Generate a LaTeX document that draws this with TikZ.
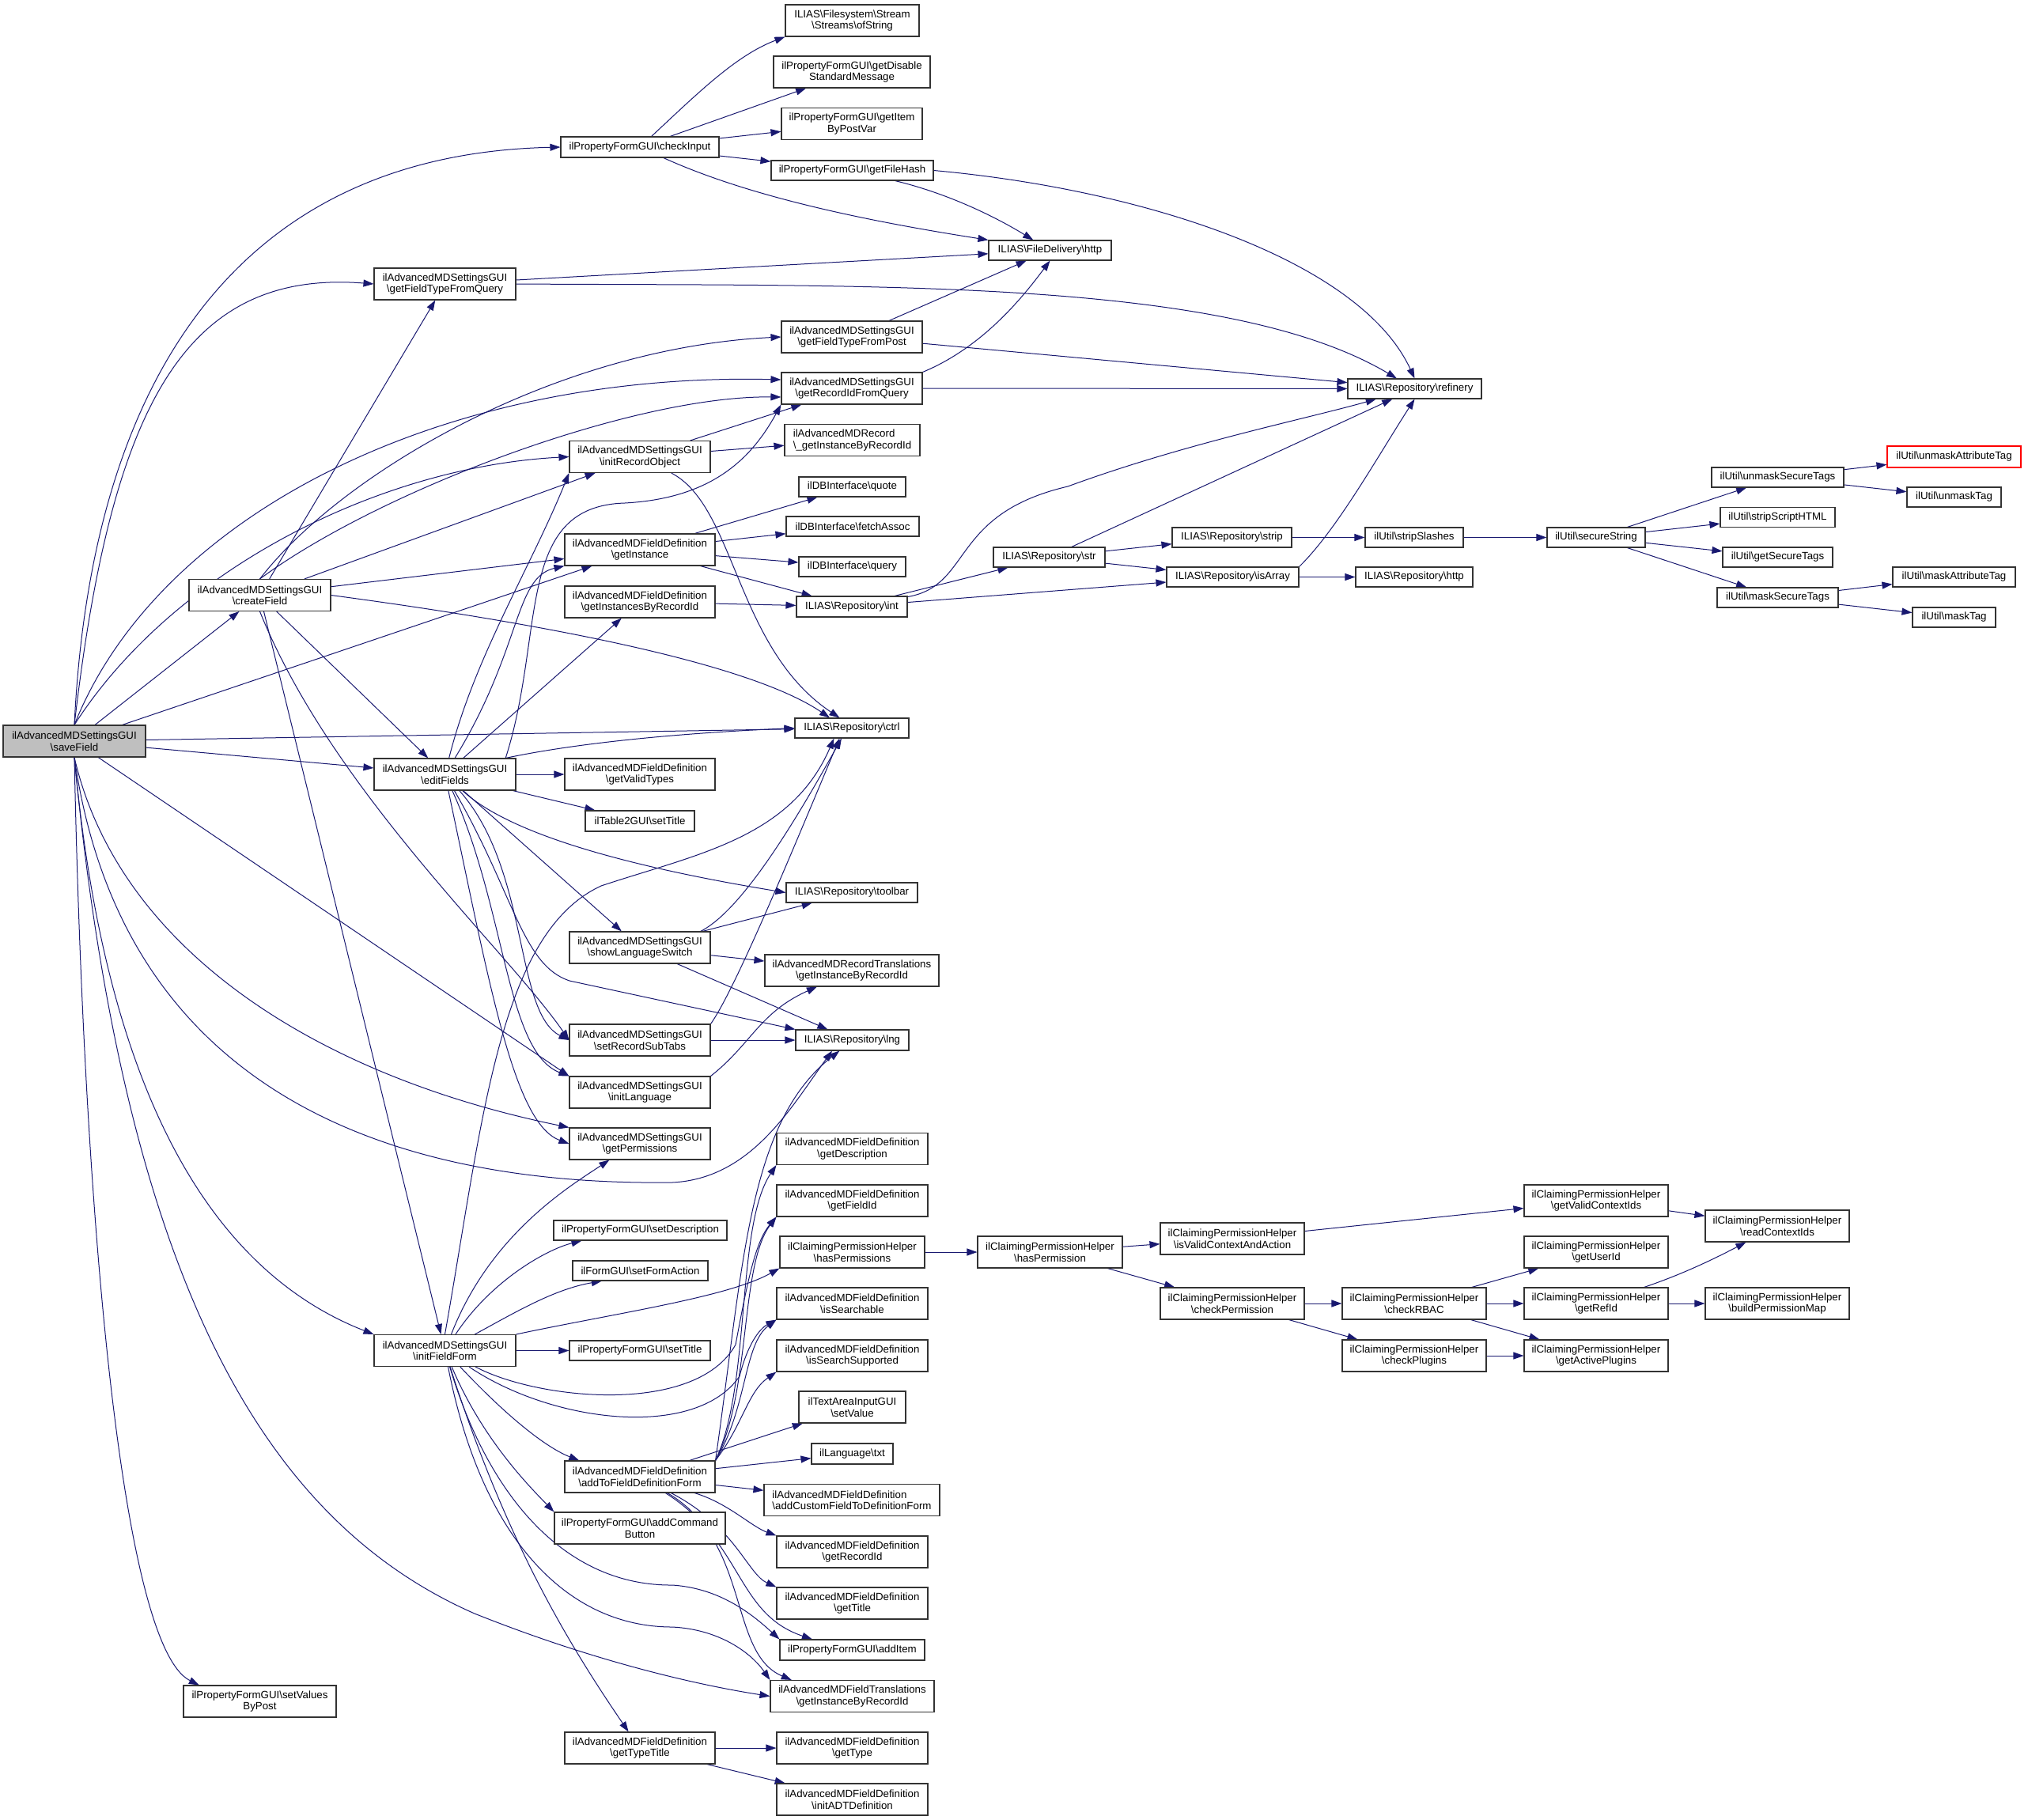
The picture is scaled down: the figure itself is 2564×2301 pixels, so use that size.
\documentclass[tikz,border=0pt]{standalone}
\usepackage{fontspec}
\setmainfont{Liberation Sans}
\usepackage{tikz}
\usetikzlibrary{arrows.meta}
\usetikzlibrary{backgrounds}

\definecolor{edgeblue}{HTML}{191970}
\definecolor{rootgray}{HTML}{BFBFBF}
\newcommand{\bs}{\textbackslash}
\newcommand{\fnsize}{\fontsize{13.3}{14.5}\selectfont}

\tikzset{
fn/.style={draw=black!80, line width=1.1pt, fill=white, inner sep=0pt, align=center, font=\fnsize},
fnone/.style={fn, minimum height=25pt},
fntwo/.style={fn, minimum height=40pt},
call/.style={draw=edgeblue, line width=1pt, -{Triangle[length=13pt,width=9pt]}, color=edgeblue}
}

\begin{document}
\begin{tikzpicture}[x=1pt,y=-1pt]
\useasboundingbox (0,0) rectangle (2564,2301);

% callers
\node[fntwo, fill=rootgray, minimum width=180pt] (saveField) at (94,937) {ilAdvancedMDSettingsGUI\\\bs saveField};
\node[fntwo, minimum width=179pt] (createField) at (328.5,752.5) {ilAdvancedMDSettingsGUI\\\bs createField};
\node[fntwo, minimum width=193pt] (setValuesByPost) at (328.5,2151) {ilPropertyFormGUI\bs setValues\\ByPost};
\node[fntwo, minimum width=179pt] (gftq) at (562.5,359) {ilAdvancedMDSettingsGUI\\\bs getFieldTypeFromQuery};
\node[fntwo, minimum width=179pt] (editFields) at (562.5,979) {ilAdvancedMDSettingsGUI\\\bs editFields};
\node[fntwo, minimum width=179pt] (initFieldForm) at (562.5,1707.5) {ilAdvancedMDSettingsGUI\\\bs initFieldForm};

% column D
\node[fnone, minimum width=200pt, minimum height=26pt] (checkInput) at (809,186) {ilPropertyFormGUI\bs checkInput};
\node[fntwo, minimum width=178pt] (iro) at (809,577.5) {ilAdvancedMDSettingsGUI\\\bs initRecordObject};
\node[fntwo, minimum width=190pt] (getInstance) at (809,695) {ilAdvancedMDFieldDefinition\\\bs getInstance};
\node[fntwo, minimum width=190pt] (getInstancesByRecordId) at (809,761) {ilAdvancedMDFieldDefinition\\\bs getInstancesByRecordId};
\node[fntwo, minimum width=190pt] (getValidTypes) at (809,979) {ilAdvancedMDFieldDefinition\\\bs getValidTypes};
\node[fnone, minimum width=138pt, minimum height=26pt] (t2SetTitle) at (809,1038) {ilTable2GUI\bs setTitle};
\node[fntwo, minimum width=178pt] (showLanguageSwitch) at (809,1198) {ilAdvancedMDSettingsGUI\\\bs showLanguageSwitch};
\node[fntwo, minimum width=178pt] (setRecordSubTabs) at (809,1315) {ilAdvancedMDSettingsGUI\\\bs setRecordSubTabs};
\node[fntwo, minimum width=178pt] (initLanguage) at (809,1381) {ilAdvancedMDSettingsGUI\\\bs initLanguage};
\node[fntwo, minimum width=178pt] (getPermissions) at (809,1446) {ilAdvancedMDSettingsGUI\\\bs getPermissions};
\node[fnone, minimum width=219pt] (propSetDescription) at (809.5,1555.5) {ilPropertyFormGUI\bs setDescription};
\node[fnone, minimum width=171pt] (setFormAction) at (809.5,1606.5) {ilFormGUI\bs setFormAction};
\node[fnone, minimum width=178pt] (propSetTitle) at (809,1707.5) {ilPropertyFormGUI\bs setTitle};
\node[fntwo, minimum width=190pt] (addToFDForm) at (809,1867) {ilAdvancedMDFieldDefinition\\\bs addToFieldDefinitionForm};
\node[fntwo, minimum width=216pt] (addCommandButton) at (809,1932) {ilPropertyFormGUI\bs addCommand\\Button};
\node[fntwo, minimum width=190pt] (getTypeTitle) at (809,2210) {ilAdvancedMDFieldDefinition\\\bs getTypeTitle};

% column E
\node[fntwo, minimum width=169pt] (ofString) at (1077.5,26) {ILIAS\bs Filesystem\bs Stream\\\bs Streams\bs ofString};
\node[fntwo, minimum width=198pt] (getDisableStd) at (1077,91) {ilPropertyFormGUI\bs getDisable\\StandardMessage};
\node[fntwo, minimum width=178pt] (getItemByPostVar) at (1077,156.5) {ilPropertyFormGUI\bs getItem\\ByPostVar};
\node[fnone, minimum width=205pt] (getFileHash) at (1077.5,215.5) {ilPropertyFormGUI\bs getFileHash};
\node[fntwo, minimum width=178pt] (gftp) at (1077,426) {ilAdvancedMDSettingsGUI\\\bs getFieldTypeFromPost};
\node[fntwo, minimum width=178pt] (grfq) at (1077,491) {ilAdvancedMDSettingsGUI\\\bs getRecordIdFromQuery};
\node[fntwo, minimum width=171pt, align=left] (recGetInst) at (1077.5,556.5) {ilAdvancedMDRecord\\\bs\_getInstanceByRecordId};
\node[fnone, minimum width=135pt] (quote) at (1077.5,615.5) {ilDBInterface\bs quote};
\node[fnone, minimum width=168pt] (fetchAssoc) at (1078,665.5) {ilDBInterface\bs fetchAssoc};
\node[fnone, minimum width=135pt] (query) at (1077.5,716.5) {ilDBInterface\bs query};
\node[fnone, minimum width=140pt, minimum height=26pt] (repInt) at (1077,767) {ILIAS\bs Repository\bs int};
\node[fnone, minimum width=144pt] (ctrl) at (1077,920.5) {ILIAS\bs Repository\bs ctrl};
\node[fnone, minimum width=166pt] (toolbar) at (1077,1128.5) {ILIAS\bs Repository\bs toolbar};
\node[fntwo, minimum width=220pt] (recTransGetInst) at (1077,1227) {ilAdvancedMDRecordTranslations\\\bs getInstanceByRecordId};
\node[fnone, minimum width=143pt, minimum height=26pt] (lng) at (1077.5,1315) {ILIAS\bs Repository\bs lng};
\node[fntwo, minimum width=191pt] (getDescription) at (1077.5,1452.5) {ilAdvancedMDFieldDefinition\\\bs getDescription};
\node[fntwo, minimum width=191pt] (getFieldId) at (1077.5,1518) {ilAdvancedMDFieldDefinition\\\bs getFieldId};
\node[fntwo, minimum width=183pt] (hasPermissions) at (1077.5,1583) {ilClaimingPermissionHelper\\\bs hasPermissions};
\node[fntwo, minimum width=191pt] (isSearchable) at (1077.5,1648) {ilAdvancedMDFieldDefinition\\\bs isSearchable};
\node[fntwo, minimum width=191pt] (isSearchSupported) at (1077.5,1714) {ilAdvancedMDFieldDefinition\\\bs isSearchSupported};
\node[fntwo, minimum width=135pt] (setValue) at (1077.5,1779) {ilTextAreaInputGUI\\\bs setValue};
\node[fnone, minimum width=103pt, minimum height=26pt] (txt) at (1077.5,1838) {ilLanguage\bs txt};
\node[fntwo, minimum width=222pt, align=left] (addCustomField) at (1077,1896.5) {ilAdvancedMDFieldDefinition\\\bs addCustomFieldToDefinitionForm};
\node[fntwo, minimum width=191pt] (getRecordId) at (1077.5,1962) {ilAdvancedMDFieldDefinition\\\bs getRecordId};
\node[fntwo, minimum width=191pt] (getTitle) at (1077.5,2027) {ilAdvancedMDFieldDefinition\\\bs getTitle};
\node[fnone, minimum width=183pt, minimum height=26pt] (addItem) at (1077.5,2086) {ilPropertyFormGUI\bs addItem};
\node[fntwo, minimum width=207pt] (fieldTrans) at (1077.5,2144.5) {ilAdvancedMDFieldTranslations\\\bs getInstanceByRecordId};
\node[fntwo, minimum width=191pt] (getType) at (1077.5,2210) {ilAdvancedMDFieldDefinition\\\bs getType};
\node[fntwo, minimum width=191pt] (initADT) at (1077.5,2275) {ilAdvancedMDFieldDefinition\\\bs initADTDefinition};

% columns F to K
\node[fnone, minimum width=155pt] (fdHttp) at (1327.5,316.5) {ILIAS\bs FileDelivery\bs http};
\node[fnone, minimum width=141pt] (repStr) at (1326.5,704.5) {ILIAS\bs Repository\bs str};
\node[fntwo, minimum width=183pt] (hasPermission) at (1327.5,1583) {ilClaimingPermissionHelper\\\bs hasPermission};
\node[fnone, minimum width=151pt] (repStrip) at (1557.5,679.5) {ILIAS\bs Repository\bs strip};
\node[fnone, minimum width=167pt] (isArray) at (1558.5,729.5) {ILIAS\bs Repository\bs isArray};
\node[fntwo, minimum width=182pt] (isValidCtx) at (1558,1566) {ilClaimingPermissionHelper\\\bs isValidContextAndAction};
\node[fntwo, minimum width=182pt] (checkPermission) at (1558,1648) {ilClaimingPermissionHelper\\\bs checkPermission};
\node[fnone, minimum width=169pt] (refinery) at (1788.5,491.5) {ILIAS\bs Repository\bs refinery};
\node[fnone, minimum width=124pt] (stripSlashes) at (1788,679.5) {ilUtil\bs stripSlashes};
\node[fnone, minimum width=148pt] (repHttp) at (1788,729.5) {ILIAS\bs Repository\bs http};
\node[fntwo, minimum width=182pt] (checkRBAC) at (1788,1648) {ilClaimingPermissionHelper\\\bs checkRBAC};
\node[fntwo, minimum width=182pt] (checkPlugins) at (1788,1714) {ilClaimingPermissionHelper\\\bs checkPlugins};
\node[fnone, minimum width=124pt] (secureString) at (2018,679.5) {ilUtil\bs secureString};
\node[fntwo, minimum width=182pt] (getValidContextIds) at (2018,1518) {ilClaimingPermissionHelper\\\bs getValidContextIds};
\node[fntwo, minimum width=182pt] (getUserId) at (2018,1583) {ilClaimingPermissionHelper\\\bs getUserId};
\node[fntwo, minimum width=182pt] (getRefId) at (2018,1648) {ilClaimingPermissionHelper\\\bs getRefId};
\node[fntwo, minimum width=182pt] (getActivePlugins) at (2018,1714) {ilClaimingPermissionHelper\\\bs getActivePlugins};
\node[fnone, minimum width=167pt] (unmaskSecureTags) at (2247.5,603.5) {ilUtil\bs unmaskSecureTags};
\node[fnone, minimum width=145pt] (stripScriptHTML) at (2247.5,654) {ilUtil\bs stripScriptHTML};
\node[fnone, minimum width=139pt] (getSecureTags) at (2247.5,704.5) {ilUtil\bs getSecureTags};
\node[fnone, minimum width=153pt] (maskSecureTags) at (2247.5,755.5) {ilUtil\bs maskSecureTags};
\node[fntwo, minimum width=182pt] (readContextIds) at (2247,1550) {ilClaimingPermissionHelper\\\bs readContextIds};
\node[fntwo, minimum width=182pt] (buildPermissionMap) at (2247,1648) {ilClaimingPermissionHelper\\\bs buildPermissionMap};
\node[fnone, draw=red, minimum width=169pt, minimum height=27pt] (unmaskAttributeTag) at (2470.5,577.5) {ilUtil\bs unmaskAttributeTag};
\node[fnone, minimum width=119pt] (unmaskTag) at (2470.5,628.5) {ilUtil\bs unmaskTag};
\node[fnone, minimum width=155pt] (maskAttributeTag) at (2470.5,729.5) {ilUtil\bs maskAttributeTag};
\node[fnone, minimum width=105pt] (maskTag) at (2470.5,780.5) {ilUtil\bs maskTag};

\begin{scope}[on background layer]
% saveField
\draw[call] (saveField.north) .. controls (115,480) and (300,195) .. (checkInput.west);
\draw[call] (saveField.north) .. controls (140,520) and (230,340) .. (gftq.west);
\draw[call] (saveField.north) .. controls (200,650) and (560,470) .. (grfq.173);
\draw[call] (saveField.north) .. controls (220,720) and (480,590) .. (iro.west);
\draw[call] (saveField) -- (getInstance);
\draw[call] (saveField) -- (createField);
\draw[call] (saveField) -- (ctrl);
\draw[call] (saveField) -- (editFields);
\draw[call] (saveField) -- (initLanguage.north west);
\draw[call] (saveField.south) .. controls (150,1200) and (400,1360) .. (getPermissions.north west);
\draw[call] (saveField.south) .. controls (150,1350) and (450,1500) .. (850,1495) .. controls (950,1490) and (1000,1400) .. (lng.208);
\draw[call] (saveField.south) .. controls (130,1350) and (250,1600) .. (initFieldForm.north west);
\draw[call] (saveField.south) .. controls (160,1650) and (350,1930) .. (600,2040) .. controls (750,2100) and (880,2130) .. (fieldTrans.west);
\draw[call] (saveField.south) .. controls (105,1500) and (150,2080) .. (setValuesByPost.165);
% createField
\draw[call] (createField) -- (gftq);
\draw[call] (createField.north) .. controls (430,600) and (700,440) .. (gftp.west);
\draw[call] (createField.north) .. controls (480,620) and (800,500) .. (grfq.187);
\draw[call] (createField) -- (iro);
\draw[call] (createField) -- (getInstance);
\draw[call] (createField.east) .. controls (700,790) and (950,840) .. (ctrl.155);
\draw[call] (createField) -- (editFields);
\draw[call] (createField) -- (initFieldForm);
\draw[call] (createField.south) .. controls (420,1000) and (640,1200) .. (setRecordSubTabs.west);
% editFields
\draw[call] (editFields.15) .. controls (690,800) and (650,640) .. (790,636) .. controls (900,630) and (950,580) .. (grfq.south west);
\draw[call] (editFields) .. controls (600,830) and (670,720) .. (iro.south west);
\draw[call] (editFields) .. controls (660,820) and (650,730) .. (getInstance.south west);
\draw[call] (editFields) -- (getInstancesByRecordId);
\draw[call] (editFields.15) .. controls (750,935) and (900,925) .. (ctrl.west);
\draw[call] (editFields) -- (getValidTypes);
\draw[call] (editFields) -- (t2SetTitle);
\draw[call] (editFields) .. controls (650,1060) and (820,1100) .. (toolbar.west);
\draw[call] (editFields) -- (showLanguageSwitch);
\draw[call] (editFields) .. controls (670,1100) and (650,1280) .. (setRecordSubTabs.west);
\draw[call] (editFields) .. controls (640,1150) and (640,1330) .. (initLanguage.north west);
\draw[call] (editFields) .. controls (620,1250) and (650,1420) .. (getPermissions.west);
\draw[call] (editFields) .. controls (650,1130) and (660,1220) .. (720,1240) -- (lng.north west);
% showLanguageSwitch, setRecordSubTabs, initLanguage
\draw[call] (showLanguageSwitch.15) .. controls (940,1150) and (1010,1030) .. (ctrl.225);
\draw[call] (showLanguageSwitch) -- (toolbar);
\draw[call] (showLanguageSwitch) -- (recTransGetInst);
\draw[call] (showLanguageSwitch) -- (lng);
\draw[call] (setRecordSubTabs.north east) .. controls (930,1250) and (1000,1080) .. (ctrl.220);
\draw[call] (setRecordSubTabs) -- (lng);
\draw[call] (initLanguage.north east) .. controls (950,1320) and (960,1280) .. (recTransGetInst.205);
% initFieldForm
\draw[call] (initFieldForm.north) .. controls (610,1420) and (630,1180) .. (760,1120) .. controls (880,1080) and (1000,1060) .. (ctrl.210);
\draw[call] (initFieldForm) .. controls (620,1560) and (720,1500) .. (getPermissions.208);
\draw[call] (initFieldForm) .. controls (620,1620) and (690,1580) .. (propSetDescription.190);
\draw[call] (initFieldForm) .. controls (650,1660) and (700,1630) .. (setFormAction.195);
\draw[call] (initFieldForm) -- (propSetTitle);
\draw[call] (initFieldForm.north east) .. controls (780,1660) and (920,1640) .. (hasPermissions.south west);
\draw[call] (initFieldForm) .. controls (680,1770) and (880,1790) .. (930,1700) .. controls (945,1620) and (955,1570) .. (getFieldId.south west);
\draw[call] (initFieldForm) .. controls (700,1800) and (880,1820) .. (935,1740) .. controls (945,1700) and (960,1680) .. (isSearchable.south west);
\draw[call] (initFieldForm) .. controls (640,1790) and (690,1830) .. (addToFDForm.165);
\draw[call] (initFieldForm) .. controls (610,1820) and (670,1880) .. (addCommandButton.north west);
\draw[call] (initFieldForm) .. controls (620,1900) and (720,2005) .. (850,2004) .. controls (910,2008) and (950,2040) .. (addItem.north west);
\draw[call] (initFieldForm) .. controls (610,1950) and (720,2057) .. (850,2057) .. controls (910,2060) and (950,2090) .. (fieldTrans.north west);
\draw[call] (initFieldForm) .. controls (640,1950) and (720,2080) .. (getTypeTitle.125);
% addToFieldDefinitionForm
\draw[call] (addToFDForm.north east) .. controls (950,1750) and (930,1550) .. (getDescription.south west);
\draw[call] (addToFDForm.north east) .. controls (950,1760) and (935,1600) .. (getFieldId.south west);
\draw[call] (addToFDForm.north east) .. controls (945,1780) and (940,1700) .. (isSearchable.south west);
\draw[call] (addToFDForm.north east) .. controls (940,1800) and (945,1760) .. (isSearchSupported.south west);
\draw[call] (addToFDForm.north east) .. controls (940,1600) and (945,1420) .. (lng.220);
\draw[call] (addToFDForm) -- (setValue);
\draw[call] (addToFDForm) -- (txt);
\draw[call] (addToFDForm) -- (addCustomField);
\draw[call] (addToFDForm) .. controls (920,1900) and (950,1930) .. (getRecordId.north west);
\draw[call] (addToFDForm) .. controls (930,1930) and (945,1990) .. (getTitle.north west);
\draw[call] (addToFDForm) .. controls (940,1950) and (930,2040) .. (addItem.165);
\draw[call] (addToFDForm) .. controls (950,1950) and (920,2090) .. (fieldTrans.165);
\draw[call] (getTypeTitle) -- (getType);
\draw[call] (getTypeTitle) -- (initADT);
% permission helper
\draw[call] (hasPermissions) -- (hasPermission);
\draw[call] (hasPermission) -- (isValidCtx);
\draw[call] (hasPermission) -- (checkPermission);
\draw[call] (isValidCtx) -- (getValidContextIds);
\draw[call] (getValidContextIds) -- (readContextIds);
\draw[call] (checkPermission) -- (checkRBAC);
\draw[call] (checkPermission) -- (checkPlugins);
\draw[call] (checkRBAC) -- (getUserId);
\draw[call] (checkRBAC) -- (getRefId);
\draw[call] (checkRBAC) -- (getActivePlugins);
\draw[call] (checkPlugins) -- (getActivePlugins);
\draw[call] (getRefId) .. controls (2130,1610) and (2170,1590) .. (readContextIds);
\draw[call] (getRefId) -- (buildPermissionMap);
% checkInput and friends
\draw[call] (checkInput) .. controls (880,120) and (930,70) .. (ofString.south west);
\draw[call] (checkInput) -- (getDisableStd);
\draw[call] (checkInput) -- (getItemByPostVar);
\draw[call] (checkInput) -- (getFileHash);
\draw[call] (checkInput) .. controls (950,250) and (1100,280) .. (fdHttp.north west);
\draw[call] (getFileHash) .. controls (1200,245) and (1260,275) .. (fdHttp);
\draw[call] (getFileHash.east) .. controls (1450,240) and (1720,330) .. (refinery.north);
\draw[call] (gftq) -- (fdHttp);
\draw[call] (gftq.east) .. controls (1100,362) and (1550,350) .. (refinery.150);
\draw[call] (gftp) -- (fdHttp);
\draw[call] (gftp) -- (refinery);
\draw[call] (grfq.north east) .. controls (1240,440) and (1290,380) .. (fdHttp.south);
\draw[call] (grfq) -- (refinery);
\draw[call] (iro) -- (grfq);
\draw[call] (iro) -- (recGetInst);
\draw[call] (iro) .. controls (930,640) and (930,820) .. (ctrl.140);
\draw[call] (getInstance) -- (quote);
\draw[call] (getInstance) -- (fetchAssoc);
\draw[call] (getInstance) -- (query);
\draw[call] (getInstance) -- (repInt);
\draw[call] (getInstancesByRecordId) -- (repInt);
\draw[call] (repInt) -- (repStr);
\draw[call] (repInt) -- (isArray);
\draw[call] (repInt) .. controls (1230,740) and (1200,650) .. (1350,615) .. controls (1500,560) and (1650,530) .. (refinery.195);
\draw[call] (repStr) -- (refinery);
\draw[call] (repStr) -- (repStrip);
\draw[call] (repStr) -- (isArray);
\draw[call] (isArray.north east) .. controls (1690,670) and (1740,580) .. (refinery.south);
\draw[call] (isArray) -- (repHttp);
\draw[call] (repStrip) -- (stripSlashes);
\draw[call] (stripSlashes) -- (secureString);
\draw[call] (secureString) -- (unmaskSecureTags);
\draw[call] (secureString) -- (stripScriptHTML);
\draw[call] (secureString) -- (getSecureTags);
\draw[call] (secureString) -- (maskSecureTags);
\draw[call] (unmaskSecureTags) -- (unmaskAttributeTag);
\draw[call] (unmaskSecureTags) -- (unmaskTag);
\draw[call] (maskSecureTags) -- (maskAttributeTag);
\draw[call] (maskSecureTags) -- (maskTag);
\end{scope}

\end{tikzpicture}
\end{document}
